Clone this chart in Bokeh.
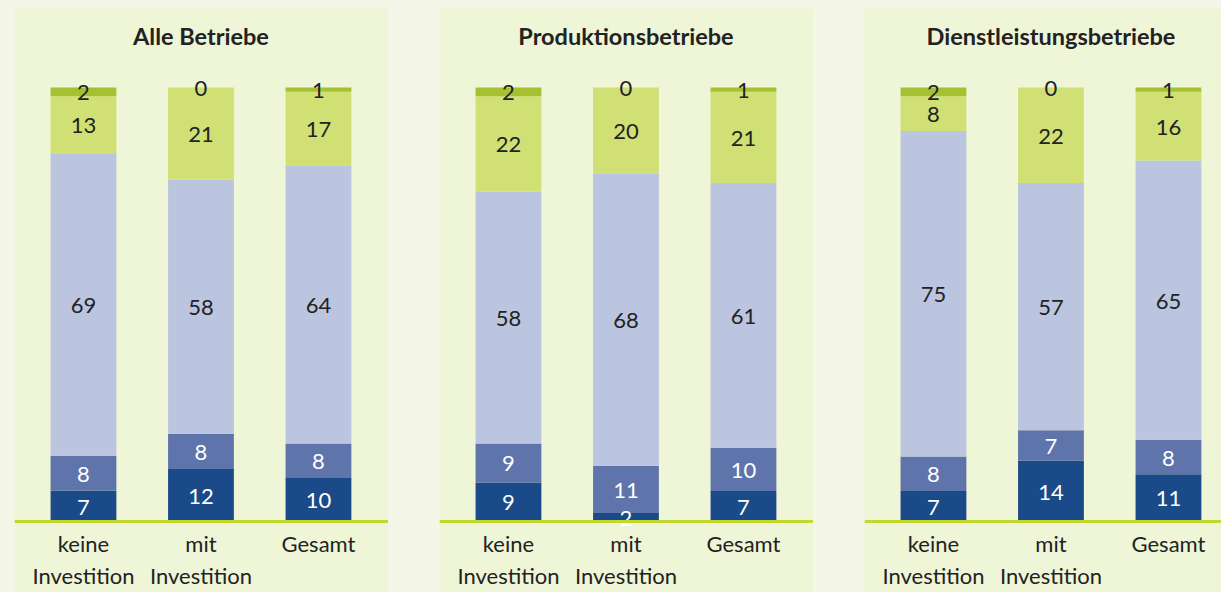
import numpy as np
from bokeh.plotting import figure
from bokeh.layouts import row, column
from bokeh.models import Range1d, Span, Spacer
from bokeh.core.properties import value
from bokeh.embed import file_html
from bokeh.resources import INLINE

# ---------------- data ----------------
panel_titles = ["Alle Betriebe", "Produktionsbetriebe", "Dienstleistungsbetriebe"]
categories = ["keine\nInvestition", "mit\nInvestition", "Gesamt"]

# stacked from bottom to top (per category: keine, mit, Gesamt)
alle_s1 = [7, 12, 10]
alle_s2 = [8, 8, 8]
alle_s3 = [69, 58, 64]
alle_s4 = [13, 21, 17]
alle_s5 = [2, 0, 1]

prod_s1 = [9, 2, 7]
prod_s2 = [9, 11, 10]
prod_s3 = [58, 68, 61]
prod_s4 = [22, 20, 21]
prod_s5 = [2, 0, 1]

dienst_s1 = [7, 14, 11]
dienst_s2 = [8, 7, 8]
dienst_s3 = [75, 57, 65]
dienst_s4 = [8, 22, 16]
dienst_s5 = [2, 0, 1]

panels = [
    [alle_s1, alle_s2, alle_s3, alle_s4, alle_s5],
    [prod_s1, prod_s2, prod_s3, prod_s4, prod_s5],
    [dienst_s1, dienst_s2, dienst_s3, dienst_s4, dienst_s5],
]

# ---------------- style ----------------
PAGE_BG = "#f4f6e8"
PANEL_BG = "#eff5d7"
FILL = ["#1a4a87", "#5e74aa", "#bcc5df", "#d0e074", "#a5c030"]
TXT = ["white", "white", "#222222", "#222222", "#222222"]
FONT = "Lato"
H = 584
PX_X = 117.5
PX_Y = 4.34
BASE_FROM_BOTTOM = 71
TITLE_FROM_TOP = 27
panel_widths = [374, 374, 357]


def make_panel(title, series, width):
    y_end = (H - BASE_FROM_BOTTOM) / PX_Y
    p = figure(width=width, height=H, output_backend="svg", toolbar_location=None,
               x_range=Range1d(-0.587, -0.587 + width / PX_X),
               y_range=Range1d(-BASE_FROM_BOTTOM / PX_Y, y_end),
               min_border_left=0, min_border_right=0, min_border_bottom=0,
               min_border_top=0)
    p.title.visible = False
    p.axis.visible = False
    p.grid.visible = False
    p.outline_line_color = None
    p.background_fill_color = PANEL_BG
    p.border_fill_color = PANEL_BG

    vals = np.array(series, dtype=float)  # (5, 3)
    totals = vals.sum(axis=0)
    norm = vals / totals * 100.0
    tops = np.cumsum(norm, axis=0)
    bottoms = tops - norm
    xs = np.arange(len(categories))

    # panel title, centred over the middle category
    p.text(x=[xs.mean()], y=[y_end - TITLE_FROM_TOP / PX_Y], text=[title],
           text_align="center", text_baseline="middle",
           text_font=value(FONT), text_font_style="bold", text_font_size="23.5px",
           text_color="#222222")

    for i in range(vals.shape[0]):
        p.vbar(x=xs, bottom=bottoms[i], top=tops[i], width=0.56,
               fill_color=FILL[i], line_color=None)
    for i in range(vals.shape[0]):
        p.text(x=xs, y=(bottoms[i] + tops[i]) / 2,
               text=[str(int(v)) for v in vals[i]],
               text_align="center", text_baseline="middle", y_offset=1,
               text_font=value(FONT), text_font_size="22px",
               text_color=TXT[i])

    p.add_layout(Span(location=0, dimension="width", line_color="#c2d82e", line_width=3))

    p.text(x=xs, y=np.zeros(len(categories)), text=categories,
           text_align="center", text_baseline="top", y_offset=8,
           text_font=value(FONT), text_font_size="22px", text_color="#222222",
           text_line_height=1.2)
    return p


figs = [make_panel(t, s, w) for t, s, w in zip(panel_titles, panels, panel_widths)]
layout = column(
    Spacer(height=8),
    row(Spacer(width=14), figs[0], Spacer(width=51), figs[1], Spacer(width=51), figs[2]),
)

html = file_html(layout, INLINE)
html = html.replace("</head>", "<style>html, body { background: %s; }</style></head>" % PAGE_BG, 1)
open("out.html", "w").write(html)
